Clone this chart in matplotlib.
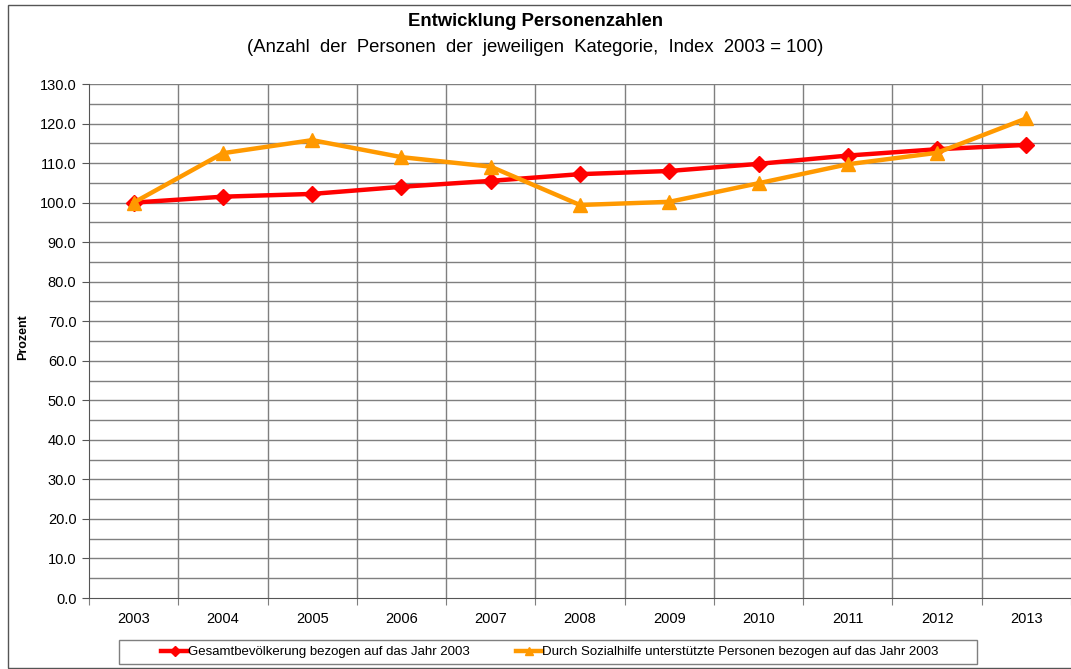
import numpy as np
import matplotlib
matplotlib.use("Agg")
import matplotlib.pyplot as plt
from matplotlib.patches import Rectangle

plt.rcParams["font.family"] = ["Liberation Sans", "DejaVu Sans"]

# ─── data ────────────────────────────────────────────────────────────────────
years = ["2003", "2004", "2005", "2006", "2007", "2008",
         "2009", "2010", "2011", "2012", "2013"]
gesamt = [100.0, 101.5, 102.2, 104.0, 105.5, 107.2,
          108.0, 109.8, 111.9, 113.5, 114.6]
sozialhilfe = [100.0, 112.5, 115.8, 111.5, 109.1, 99.4,
               100.2, 104.9, 109.7, 112.6, 121.3]
label_gesamt = "Gesamtbevölkerung bezogen auf das Jahr 2003"
label_sozial = "Durch Sozialhilfe unterstützte Personen bezogen auf das Jahr 2003"

W, H = 1071, 669
fig = plt.figure(figsize=(W / 100, H / 100), dpi=100)

# outer chart frame
fig.patches.append(Rectangle((8 / W, 1 / H), 1.0, 1 - 6 / H, transform=fig.transFigure,
                             fill=False, edgecolor="#555555", linewidth=1.0))

ax = fig.add_axes([89 / W, 1 - 598 / H, (1071 - 89) / W, (598 - 84) / H])
x = np.arange(len(years))

# grid: horizontal every 5, vertical at category boundaries
for v in np.arange(5, 131, 5):
    ax.axhline(v, color="#7f7f7f", linewidth=1.0, zorder=1)
for b in np.arange(0.5, len(years) - 0.5, 1):
    ax.axvline(b, color="#7f7f7f", linewidth=1.0, zorder=1)

ax.plot(x, gesamt, color="#ff0000", linewidth=3.2, marker="D", markersize=8.5,
        label=label_gesamt, zorder=3, clip_on=False)
ax.plot(x, sozialhilfe, color="#ff9900", linewidth=3.2, marker="^", markersize=10.5,
        label=label_sozial, zorder=3, clip_on=False)

ax.set_xlim(-0.5, len(years) - 0.5)
ax.set_ylim(0, 130)
ax.set_yticks(np.arange(0, 131, 10))
ax.set_yticklabels([f"{v:.1f}" for v in np.arange(0, 131, 10)], fontsize=10.5)
ax.set_xticks(np.arange(-0.5, len(years), 1))
ax.set_xticklabels([])
ax.set_xticks(x, minor=True)
ax.set_xticklabels(years, minor=True, fontsize=10.5)
ax.tick_params(axis="x", which="minor", length=0, pad=10)
ax.tick_params(axis="x", which="major", length=5, color="#7f7f7f", direction="out")
ax.tick_params(axis="y", length=5, direction="out", color="#555555", pad=4)

for s in ["top", "right"]:
    ax.spines[s].set_visible(False)
ax.spines["left"].set_color("#555555")
ax.spines["bottom"].set_color("#555555")

ax.set_ylabel("Prozent", fontsize=9, fontweight="bold")
ax.yaxis.set_label_coords(-0.061, 0.508)

fig.text(0.5, 1 - 22 / H, "Entwicklung Personenzahlen", ha="center", va="center",
         fontsize=13.3, fontweight="bold")
fig.text(0.5, 1 - 48 / H,
         "(Anzahl  der  Personen  der  jeweiligen  Kategorie,  Index  2003 = 100)",
         ha="center", va="center", fontsize=13.3)

# legend box drawn separately so its size matches the original
fig.patches.append(Rectangle((119 / W, 1 - 664 / H), (977 - 119) / W, 24 / H,
                             transform=fig.transFigure, fill=False,
                             edgecolor="#7f7f7f", linewidth=1.0))
fig.legend(loc="center", bbox_to_anchor=(550 / W, 1 - 652 / H), ncol=2,
           fontsize=9.5, frameon=False, handlelength=2.0, handletextpad=0.0,
           columnspacing=3.5, markerscale=0.6)

fig.savefig("out.png", dpi=100)
